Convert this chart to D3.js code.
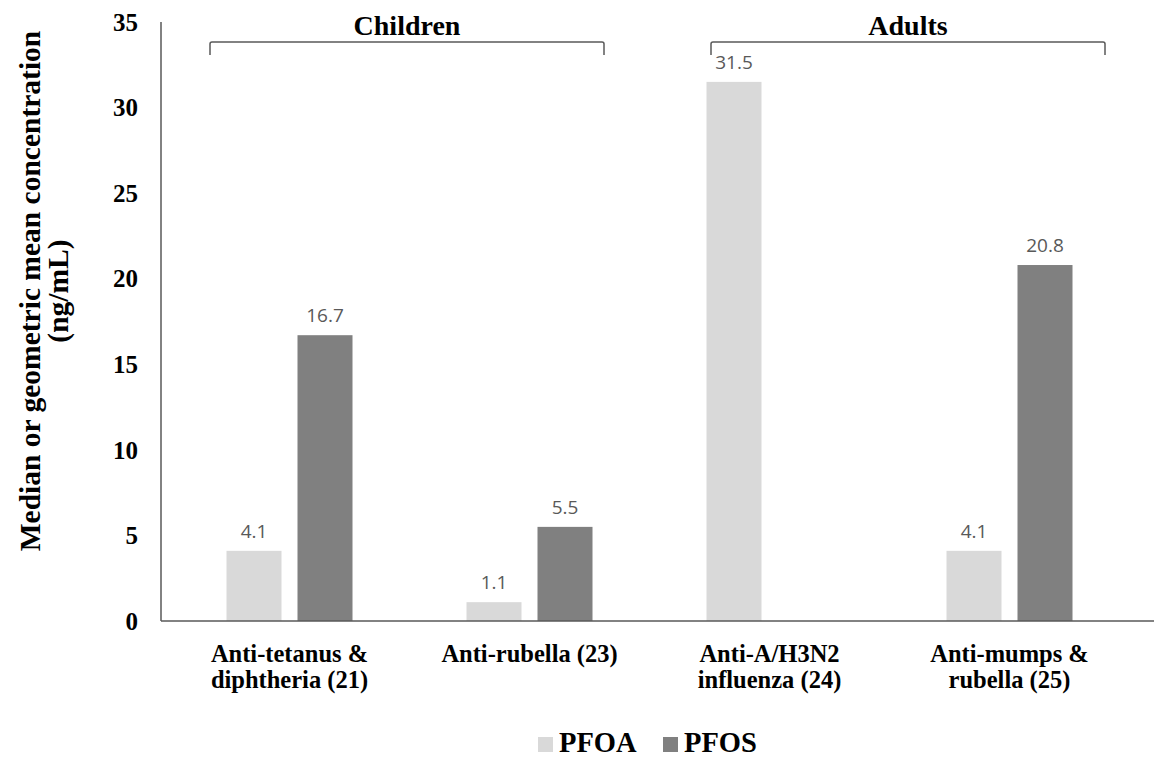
<!DOCTYPE html>
<html>
<head>
<meta charset="utf-8">
<script src="https://cdn.jsdelivr.net/npm/d3@7"></script>
<style>
  body { margin: 0; background: #fff; }
  .serif { font-family: "Liberation Serif", "Times New Roman", serif; font-weight: bold; fill: #000; }
  .datalabel { font-family: "Open Sans", "Liberation Sans", sans-serif; font-size: 19px; fill: #595959; }
</style>
</head>
<body>
<svg id="chart" width="1154" height="758"></svg>
<script>
var categories = [
    ['Anti-tetanus &', 'diphtheria (21)'],
    ['Anti-rubella (23)'],
    ['Anti-A/H3N2', 'influenza (24)'],
    ['Anti-mumps &', 'rubella (25)']
]
var series = ['PFOA', 'PFOS']
var pfoa = [4.1, 1.1, 31.5, 4.1]
var pfos = [16.7, 5.5, null, 20.8]
var colors = ['#d9d9d9', '#808080']
var yTicks = [0, 5, 10, 15, 20, 25, 30, 35]
var groups = ['Children', 'Adults']
var groupSpans = [[210, 604], [711, 1105]]   // bracket ends in px

var svg = d3.select('#chart')
var keys = categories.map(function(c) { return c.join(' '); })

var x = d3.scaleBand().domain(keys).range([169.5, 1129.5])
var x1 = d3.scaleBand().domain(series).range([-63, 63]).paddingInner(0.2254)
var y = d3.scaleLinear().domain([0, 35]).range([621, 22])

var values = [pfoa, pfos]
var bars = []
keys.forEach(function(k, i) {
    series.forEach(function(s, j) {
        if (values[j][i] != null) bars.push({ key: k, s: s, v: values[j][i], c: colors[j] })
    })
})

// bars
svg.selectAll('rect.bar')
    .data(bars)
    .enter()
        .append('rect')
        .attr('class', 'bar')
        .attr('x', function(d) { return x(d.key) + x.bandwidth() / 2 + x1(d.s); })
        .attr('width', x1.bandwidth())
        .attr('y', function(d) { return y(d.v); })
        .attr('height', function(d) { return y(0) - y(d.v); })
        .attr('fill', function(d) { return d.c; })

svg.selectAll('text.datalabel')
    .data(bars)
    .enter()
        .append('text')
        .attr('class', 'datalabel')
        .attr('text-anchor', 'middle')
        .attr('x', function(d) { return x(d.key) + x.bandwidth() / 2 + x1(d.s) + x1.bandwidth() / 2; })
        .attr('y', function(d) { return y(d.v) - 13; })
        .text(function(d) { return d.v.toFixed(1); })

// axes lines
svg.append('line')
    .attr('x1', 161).attr('x2', 161)
    .attr('y1', y(35)).attr('y2', y(0))
    .attr('stroke', '#595959').attr('stroke-width', 1.5)
svg.append('line')
    .attr('x1', 161).attr('x2', 1154)
    .attr('y1', y(0)).attr('y2', y(0))
    .attr('stroke', '#595959').attr('stroke-width', 1.5)

// y ticks
svg.selectAll('text.ytick')
    .data(yTicks)
    .enter()
        .append('text')
        .attr('class', 'ytick serif')
        .attr('text-anchor', 'end')
        .attr('x', 138)
        .attr('y', function(d) { return y(d); })
        .attr('dy', '0.35em')
        .style('font-size', '25px')
        .text(function(d) { return d; })

// x labels
var xl = svg.selectAll('text.xlabel')
    .data(categories)
    .enter()
        .append('text')
        .attr('class', 'xlabel serif')
        .attr('text-anchor', 'middle')
        .style('font-size', '24.5px')
        .attr('transform', function(d, i) { return 'translate(' + (x(keys[i]) + x.bandwidth() / 2) + ',662)'; })
xl.selectAll('tspan')
    .data(function(d) { return d; })
    .enter()
        .append('tspan')
        .attr('x', 0)
        .attr('y', function(d, i) { return i * 25.5; })
        .text(function(d) { return d; })

// y title
var yt = svg.append('text')
    .attr('class', 'serif')
    .attr('text-anchor', 'middle')
    .style('font-size', '29.5px')
    .attr('transform', 'translate(0,291) rotate(-90)')
yt.append('tspan').attr('x', 0).attr('y', 40).text('Median or geometric mean concentration')
yt.append('tspan').attr('x', 0).attr('y', 68).text('(ng/mL)')

// group brackets
svg.selectAll('path.bracket')
    .data(groupSpans)
    .enter()
        .append('path')
        .attr('class', 'bracket')
        .attr('fill', 'none')
        .attr('stroke', '#595959')
        .attr('stroke-width', 1.5)
        .attr('d', function(d) {
            return 'M' + d[0] + ',55 L' + d[0] + ',44 Q' + d[0] + ',42 ' + (d[0] + 2) + ',42' +
                ' L' + (d[1] - 2) + ',42 Q' + d[1] + ',42 ' + d[1] + ',44 L' + d[1] + ',55'
        })
svg.selectAll('text.group')
    .data(groups)
    .enter()
        .append('text')
        .attr('class', 'group serif')
        .attr('text-anchor', 'middle')
        .style('font-size', '28px')
        .attr('x', function(d, i) { return (groupSpans[i][0] + groupSpans[i][1]) / 2; })
        .attr('y', 35)
        .text(function(d) { return d; })

// legend
var legendX = [538, 663]
var lg = svg.selectAll('g.legend')
    .data(series)
    .enter()
        .append('g')
        .attr('class', 'legend')
        .attr('transform', function(d, i) { return 'translate(' + legendX[i] + ',0)'; })
lg.append('rect')
    .attr('x', 0).attr('y', 737)
    .attr('width', 15).attr('height', 15)
    .attr('fill', function(d, i) { return colors[i]; })
lg.append('text')
    .attr('class', 'serif')
    .attr('x', 21).attr('y', 752)
    .style('font-size', '28.5px')
    .text(function(d) { return d; })
</script>
</body>
</html>
